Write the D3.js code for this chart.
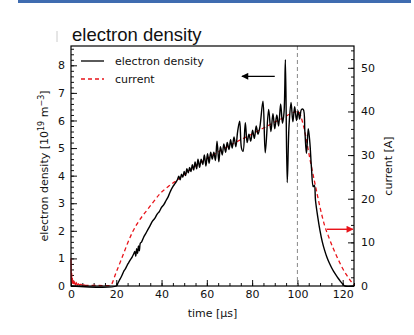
<!DOCTYPE html>
<html>
<head>
<meta charset="utf-8">
<script src="https://cdn.jsdelivr.net/npm/d3@7"></script>
<style>
  body { margin: 0; background: #fff; }
  svg text { font-family: "DejaVu Sans", sans-serif; fill: #111; }
</style>
</head>
<body>
<div id="chart"></div>
<script>
// electron density [1e19 m^-3] vs time [us]
const densTime = [0, 20, 20.6, 21.3, 22, 22.7, 23.4, 24, 24.8, 25.5, 26.2, 27, 27.6, 28.2, 28.6, 29, 29.4, 29.8, 30.2, 30.6, 31.2, 32, 33, 34, 35, 36, 37, 38, 39, 40, 41, 42, 43, 44, 45, 46, 47,
  47.6, 48.2, 48.8, 49.4, 50, 50.6, 51.2, 51.8, 52.4, 53, 53.6, 54.2, 54.8, 55.5, 56.1, 56.8, 57.5, 58.2, 58.9, 59.6, 60.3, 61, 61.7, 62.4, 63.1, 63.8, 64.5, 65.3, 66, 66.8, 67.5, 68.3, 69, 69.8, 70.5, 71.2, 72, 72.8, 73.6, 74.5, 75.3, 76, 77, 77.8, 78.6, 79.4, 80.2, 81, 81.8, 82.6, 83.4, 84.8, 85.8, 87.3, 88.3, 89.2, 90, 90.9, 91.7, 92.6, 93.4, 94.1, 94.7, 95.5, 96.3, 97.2, 98, 98.8, 99.6, 100.3, 101, 101.8, 102.6, 103.3, 104, 104.8, 105.5, 106.2, 107, 107.5, 108, 109, 110, 111, 112, 113, 114, 115, 116, 117, 118, 119, 120, 121, 125];
const density = [0, 0, 0.08, 0.2, 0.3, 0.42, 0.55, 0.62, 0.75, 0.85, 0.95, 1.05, 1.15, 1.25, 1.08, 1.35, 1.18, 1.45, 1.28, 1.55, 1.6, 1.75, 1.9, 2.05, 2.2, 2.35, 2.45, 2.6, 2.7, 2.85, 2.95, 3.1, 3.25, 3.45, 3.6, 3.72, 3.85,
  3.98, 3.85, 4.05, 3.95, 4.15, 4.0, 4.25, 4.1, 4.3, 4.15, 4.4, 4.2, 4.5, 4.25, 4.6, 4.3, 4.6, 4.4, 4.75, 4.35, 4.8, 4.45, 4.85, 4.6, 4.85, 4.55, 5.25, 4.5, 5.05, 4.75, 5.15, 4.85, 5.2, 4.95, 5.3, 5.0, 5.4, 5.05, 5.6, 5.97, 5.0, 4.88, 5.92, 5.2, 5.5, 5.25, 5.65, 5.35, 5.8, 5.5, 5.75, 6.7, 4.83, 6.4, 5.6, 6.25, 5.7, 6.2, 5.8, 6.6, 5.9, 6.3, 8.2, 3.75, 5.8, 6.65, 5.95, 6.5, 6.0, 6.35, 6.05, 6.4, 6.4, 5.6, 4.8, 5.7, 5.2, 4.3, 3.6, 3.65, 3.1, 2.5, 2.0, 1.6, 1.3, 1.05, 0.85, 0.68, 0.53, 0.4, 0.28, 0.17, 0.07, 0, 0];

// current [A] vs time [us]
const currTime = [6, 17.3, 20, 22.6, 25, 27.4, 30, 33.6, 36, 39.4, 43, 46.9, 48.2, 55, 63, 70, 78, 85, 92.5, 100.4, 102.6, 105.8, 108.8, 110, 112, 114, 116, 118, 120, 122, 124, 125];
const current = [0.15, 0.1, 3.2, 6.6, 9.8, 12.6, 14.9, 17.4, 19.0, 21.2, 22.8, 24.3, 24.8, 27.5, 30.1, 32.2, 34.3, 36.2, 38.2, 40.0, 36.9, 28.4, 20.9, 18.0, 13.9, 11.0, 8.4, 6.1, 4.0, 2.3, 0.85, 0.25];
// noisy current at the start of the pulse
const noiseTime = [0, 0.15, 0.3, 0.45, 0.6, 0.8, 1.0, 1.3, 1.6, 2.0, 2.4, 2.8, 3.3, 3.8, 4.4, 5.0, 5.6, 6.2];
const noiseCurr = [6.3, 1.0, 3.0, 0.6, 1.8, 0.5, 1.2, 0.4, 0.9, 0.3, 0.7, 0.25, 0.5, 0.2, 0.4, 0.15, 0.25, 0.15];

const xTicks = [0, 20, 40, 60, 80, 100, 120];
const yLeftTicks = [0, 1, 2, 3, 4, 5, 6, 7, 8];
const yRightTicks = [0, 10, 20, 30, 40, 50];

const W = 414, H = 335;
const margin = {top: 46, right: 60, bottom: 49, left: 71};
const width = W - margin.left - margin.right;
const height = H - margin.top - margin.bottom;

const root = d3.select("#chart").append("svg")
    .attr("width", W)
    .attr("height", H);

// blue bar on top of the slide
root.append("rect")
    .attr("x", 18).attr("y", 0)
    .attr("width", 393).attr("height", 3)
    .attr("fill", "#3f6cb0");

root.append("line")
    .attr("x1", 57).attr("x2", 57)
    .attr("y1", 31).attr("y2", 42)
    .attr("stroke", "#ccc").attr("stroke-width", 1);

root.append("text")
    .attr("x", 72).attr("y", 41)
    .style("font-family", "'Liberation Sans', Arial, sans-serif")
    .style("font-size", "18.5px")
    .text("electron density");

const svg = root.append("g")
    .attr("transform", "translate(" + margin.left + "," + margin.top + ")");

const x = d3.scaleLinear().domain([0, 125]).range([0, width]);
const yL = d3.scaleLinear().domain([0, 8.7]).range([height, 0]);
const yR = d3.scaleLinear().domain([0, 55]).range([height, 0]);

// minor ticks
svg.append("g")
    .attr("transform", "translate(0," + height + ")")
    .call(d3.axisBottom(x).tickValues(d3.range(0, 126, 5)).tickSize(-3).tickFormat(""))
    .call(g => g.select(".domain").remove());
svg.append("g")
    .call(d3.axisLeft(yL).tickValues(d3.range(0, 8.7, 0.2)).tickSize(-3).tickFormat(""))
    .call(g => g.select(".domain").remove());
svg.append("g")
    .attr("transform", "translate(" + width + ",0)")
    .call(d3.axisRight(yR).tickValues(d3.range(0, 55.1, 2)).tickSize(-3).tickFormat(""))
    .call(g => g.select(".domain").remove());

// major ticks
const fmt = d3.format("d");
svg.append("g")
    .attr("transform", "translate(0," + height + ")")
    .call(d3.axisBottom(x).tickValues(xTicks).tickSize(-6).tickPadding(4).tickFormat(fmt))
    .call(g => g.select(".domain").remove());
svg.append("g")
    .call(d3.axisLeft(yL).tickValues(yLeftTicks).tickSize(-6).tickPadding(6).tickFormat(fmt))
    .call(g => g.select(".domain").remove());
svg.append("g")
    .attr("transform", "translate(" + width + ",0)")
    .call(d3.axisRight(yR).tickValues(yRightTicks).tickSize(-6).tickPadding(7).tickFormat(fmt))
    .call(g => g.select(".domain").remove());

svg.selectAll(".tick text").style("font-size", "11px").attr("fill", "#111");
svg.selectAll(".tick line").attr("stroke", "#111");

// dashed marker at 100 us
svg.append("line")
    .attr("x1", x(100)).attr("x2", x(100))
    .attr("y1", 0).attr("y2", height)
    .attr("stroke", "#888").attr("stroke-width", 1)
    .attr("stroke-dasharray", "4,3");

// current (right axis)
svg.append("path")
    .datum(noiseTime.map((t, i) => [t, noiseCurr[i]]))
    .attr("fill", "none")
    .attr("stroke", "#e8141a")
    .attr("stroke-width", 1.2)
    .attr("d", d3.line().x(d => x(d[0])).y(d => yR(d[1])));

svg.append("path")
    .datum(currTime.map((t, i) => [t, current[i]]))
    .attr("fill", "none")
    .attr("stroke", "#e8141a")
    .attr("stroke-width", 1.3)
    .attr("stroke-dasharray", "4,3")
    .attr("d", d3.line().curve(d3.curveMonotoneX).x(d => x(d[0])).y(d => yR(d[1])));

// electron density (left axis)
svg.append("path")
    .datum(densTime.map((t, i) => [t, density[i]]))
    .attr("fill", "none")
    .attr("stroke", "#000")
    .attr("stroke-width", 1.4)
    .attr("d", d3.line().curve(d3.curveCatmullRom).x(d => x(d[0])).y(d => yL(d[1])));

// frame
svg.append("rect")
    .attr("width", width).attr("height", height)
    .attr("fill", "none").attr("stroke", "#000").attr("stroke-width", 1.2);

// arrows pointing to the matching axis
const defs = root.append("defs");
[["headK", "#000"], ["headR", "#e8141a"]].forEach(([id, c]) => {
    defs.append("marker")
        .attr("id", id)
        .attr("viewBox", "0 0 10 10")
        .attr("refX", 9).attr("refY", 5)
        .attr("markerWidth", 9).attr("markerHeight", 7)
        .attr("markerUnits", "userSpaceOnUse")
        .attr("orient", "auto")
        .append("path").attr("d", "M0,0L10,5L0,10z").attr("fill", c);
});
svg.append("line")
    .attr("x1", x(90)).attr("x2", x(75.5))
    .attr("y1", yL(7.6)).attr("y2", yL(7.6))
    .attr("stroke", "#000").attr("stroke-width", 1.4)
    .attr("marker-end", "url(#headK)");
svg.append("line")
    .attr("x1", x(113)).attr("x2", x(124.5))
    .attr("y1", yR(13)).attr("y2", yR(13))
    .attr("stroke", "#e8141a").attr("stroke-width", 1.4)
    .attr("marker-end", "url(#headR)");

// legend
const legend = svg.append("g").attr("transform", "translate(10,15)");
legend.append("line").attr("x1", 0).attr("x2", 23).attr("y1", 0).attr("y2", 0)
    .attr("stroke", "#000").attr("stroke-width", 1.3);
legend.append("text").attr("x", 34).attr("y", 4).style("font-size", "11px").text("electron density");
legend.append("line").attr("x1", 0).attr("x2", 23).attr("y1", 18).attr("y2", 18)
    .attr("stroke", "#e8141a").attr("stroke-width", 1.3).attr("stroke-dasharray", "4,3");
legend.append("text").attr("x", 34).attr("y", 22).style("font-size", "11px").text("current");

// axis titles
svg.append("text")
    .attr("x", width / 2).attr("y", height + 31)
    .attr("text-anchor", "middle")
    .style("font-size", "11px")
    .text("time [µs]");

const yt = svg.append("text")
    .attr("transform", "translate(-23," + (height / 2) + ") rotate(-90)")
    .attr("text-anchor", "middle")
    .style("font-size", "11px");
yt.append("tspan").text("electron density [10");
yt.append("tspan").attr("dy", -4).style("font-size", "8px").text("19");
yt.append("tspan").attr("dy", 4).text(" m");
yt.append("tspan").attr("dy", -4).style("font-size", "8px").text("−3");
yt.append("tspan").attr("dy", 4).text("]");

svg.append("text")
    .attr("transform", "translate(" + (width + 38) + "," + (height / 2) + ") rotate(-90)")
    .attr("text-anchor", "middle")
    .style("font-size", "11px")
    .text("current [A]");
</script>
</body>
</html>
